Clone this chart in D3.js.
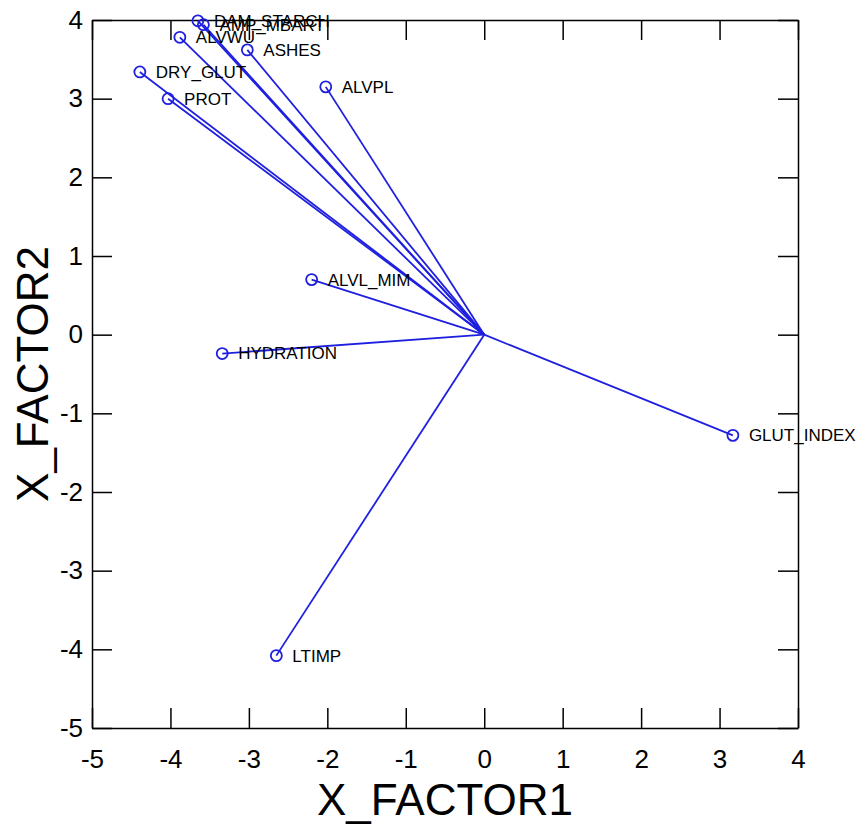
<!DOCTYPE html>
<html>
<head>
<meta charset="utf-8">
<script src="https://cdn.jsdelivr.net/npm/d3@7"></script>
<style>
  body { margin: 0; background: #fff; }
  text { font-family: "Liberation Sans", Arial, sans-serif; }
</style>
</head>
<body>
<div id="chart"></div>
<script>
// loadings
var labels = ["DAM_STARCH", "AMP_MBART", "ALVWU", "ASHES", "DRY_GLUT", "PROT", "ALVPL", "ALVL_MIM", "HYDRATION", "GLUT_INDEX", "LTIMP"];
var factor1 = [-3.65, -3.58, -3.88, -3.02, -4.39, -4.03, -2.02, -2.20, -3.34, 3.17, -2.65];
var factor2 = [3.99, 3.94, 3.78, 3.62, 3.34, 3.00, 3.15, 0.70, -0.24, -1.28, -4.08];
var xTicks = [-5, -4, -3, -2, -1, 0, 1, 2, 3, 4];
var yTicks = [-5, -4, -3, -2, -1, 0, 1, 2, 3, 4];

var data = labels.map(function(d, i) { return {name: d, x: factor1[i], y: factor2[i]}; });

// set the dimensions and margins of the graph
var margin = {top: 20, right: 58, bottom: 100, left: 92},
    width = 856 - margin.left - margin.right,
    height = 828 - margin.top - margin.bottom;

var svg = d3.select("#chart")
  .append("svg")
    .attr("width", 856)
    .attr("height", 828)
  .append("g")
    .attr("transform", "translate(" + margin.left + "," + margin.top + ")");

var x = d3.scaleLinear().domain([-5, 4]).range([0, width]);
var y = d3.scaleLinear().domain([-5, 4]).range([height, 0]);

var tickLen = 20;
var plain = function(d) { return String(d); }; // hyphen minus like the original

// frame axes, ticks pointing inward
function styleAxis(g) {
  g.select(".domain").attr("stroke", "#000").attr("stroke-width", 1.5);
  g.selectAll(".tick line").attr("stroke", "#000").attr("stroke-width", 1.5);
}
function styleText(g) {
  g.selectAll("text").attr("font-size", 26).attr("fill", "#000").attr("font-family", "Liberation Sans, Arial, sans-serif");
}

svg.append("g")
  .attr("transform", "translate(0," + height + ")")
  .call(d3.axisBottom(x).tickValues(xTicks).tickSizeInner(-tickLen).tickSizeOuter(0).tickPadding(tickLen + 2).tickFormat(plain))
  .call(styleAxis)
  .call(styleText);

svg.append("g")
  .call(d3.axisLeft(y).tickValues(yTicks).tickSizeInner(-tickLen).tickSizeOuter(0).tickPadding(9).tickFormat(plain))
  .call(styleAxis)
  .call(styleText);

svg.append("g")
  .call(d3.axisTop(x).tickValues(xTicks).tickSizeInner(-tickLen).tickSizeOuter(0).tickFormat(""))
  .call(styleAxis);

svg.append("g")
  .attr("transform", "translate(" + width + ",0)")
  .call(d3.axisRight(y).tickValues(yTicks).tickSizeInner(-tickLen).tickSizeOuter(0).tickFormat(""))
  .call(styleAxis);

// axis titles
svg.append("text")
  .attr("x", width / 2)
  .attr("y", height + 87)
  .attr("text-anchor", "middle")
  .attr("font-size", 44)
  .text("X_FACTOR1");

svg.append("text")
  .attr("transform", "translate(-44," + (height / 2) + ") rotate(-90)")
  .attr("text-anchor", "middle")
  .attr("font-size", 44)
  .text("X_FACTOR2");

// vectors from origin
svg.selectAll("myline")
  .data(data)
  .enter()
  .append("line")
    .attr("x1", x(0))
    .attr("y1", y(0))
    .attr("x2", function(d) { return x(d.x); })
    .attr("y2", function(d) { return y(d.y); })
    .attr("stroke", "#1f1fe0")
    .attr("stroke-width", 1.8);

// points
svg.selectAll("mycircle")
  .data(data)
  .enter()
  .append("circle")
    .attr("cx", function(d) { return x(d.x); })
    .attr("cy", function(d) { return y(d.y); })
    .attr("r", 5.5)
    .attr("fill", "none")
    .attr("stroke", "#1f1fe0")
    .attr("stroke-width", 1.8);

// labels
svg.selectAll("mylabel")
  .data(data)
  .enter()
  .append("text")
    .attr("x", function(d) { return x(d.x) + 16; })
    .attr("y", function(d) { return y(d.y); })
    .attr("dy", "0.35em")
    .attr("font-size", 17)
    .text(function(d) { return d.name; });
</script>
</body>
</html>
